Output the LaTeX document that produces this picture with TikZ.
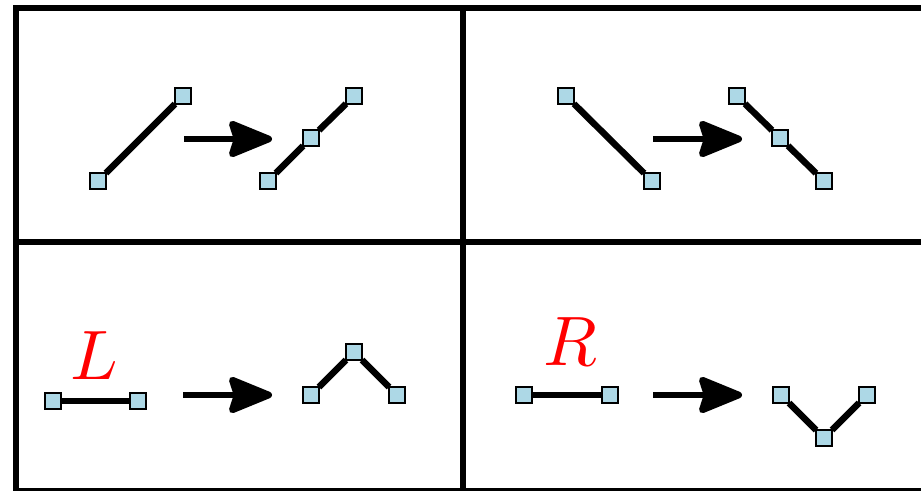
\documentclass[tikz,border=0pt]{standalone}
\usetikzlibrary{arrows.meta}
\definecolor{sqblue}{RGB}{173,216,230}
\begin{document}
\begin{tikzpicture}[x=1pt,y=-1pt,
  vtx/.style={draw=black,fill=sqblue,line width=2.8pt,minimum size=16pt,inner sep=0pt,outer sep=0pt},
  edge/.style={line width=6.5pt},
  grid/.style={line width=6pt},
  bigarrow/.style={line width=6.7pt,-{Stealth[length=50pt,width=40pt,inset=6pt,round]}},
  lbl/.style={text=red,scale=7,inner sep=0pt}]
\useasboundingbox (0,0) rectangle (921,490);
\begin{scope}
\clip (0,0) rectangle (921,490);
\draw[grid] (15.5,8) rectangle (927,491);
\draw[grid] (463,8) -- (463,491);
\draw[grid] (15.5,241.5) -- (927,241.5);
\end{scope}
% top-left
\coordinate (as) at (184,139); \coordinate (ae) at (272,139);
\draw[bigarrow] (as) -- (ae);
\node[vtx] (a1) at (98,181) {};
\node[vtx] (a2) at (183,96) {};
\node[vtx] (b1) at (268,181) {};
\node[vtx] (b2) at (311,138) {};
\node[vtx] (b3) at (354,96) {};
% top-right
\coordinate (cs) at (653,139); \coordinate (ce) at (742,139);
\draw[bigarrow] (cs) -- (ce);
\node[vtx] (c1) at (566,96) {};
\node[vtx] (c2) at (652,181) {};
\node[vtx] (d1) at (737,96) {};
\node[vtx] (d2) at (780,138) {};
\node[vtx] (d3) at (824,181) {};
% bottom-left
\node[lbl] (L) at (94,356) {$L$};
\coordinate (es) at (183,395); \coordinate (ee) at (272,395);
\draw[bigarrow] (es) -- (ee);
\node[vtx] (e1) at (53,401) {};
\node[vtx] (e2) at (138,401) {};
\node[vtx] (f1) at (311,395) {};
\node[vtx] (f2) at (354,352) {};
\node[vtx] (f3) at (397,395) {};
% bottom-right
\node[lbl] (R) at (570,342) {$R$};
\coordinate (gs) at (653,395); \coordinate (ge) at (742,395);
\draw[bigarrow] (gs) -- (ge);
\node[vtx] (g1) at (524,395) {};
\node[vtx] (g2) at (610,395) {};
\node[vtx] (h1) at (781,395) {};
\node[vtx] (h2) at (824,438) {};
\node[vtx] (h3) at (867,395) {};
% edges
\draw[edge] (a1) -- (a2);
\draw[edge] (b1) -- (b2); \draw[edge] (b2) -- (b3);
\draw[edge] (c1) -- (c2);
\draw[edge] (d1) -- (d2); \draw[edge] (d2) -- (d3);
\draw[edge] (e1) -- (e2);
\draw[edge] (f1) -- (f2); \draw[edge] (f2) -- (f3);
\draw[edge] (g1) -- (g2);
\draw[edge] (h1) -- (h2); \draw[edge] (h2) -- (h3);
\end{tikzpicture}
\end{document}
